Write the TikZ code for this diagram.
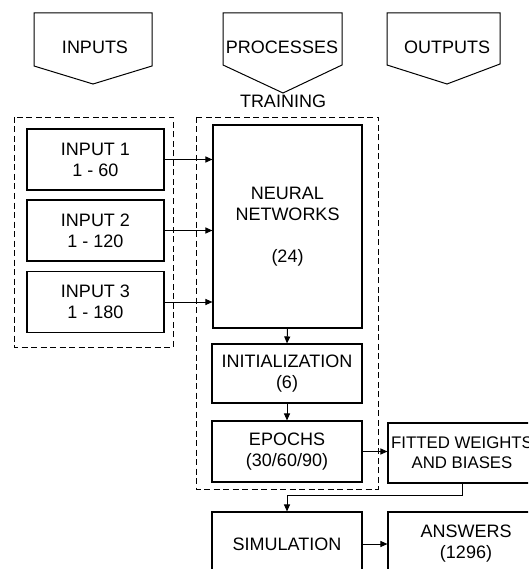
\documentclass[tikz,border=0pt]{standalone}
\usepackage{fontspec}
\setmainfont{Liberation Sans}
\usetikzlibrary{arrows.meta}

\tikzset{
  box/.style={draw, line width=1.1pt, align=center, inner sep=0pt,
    font=\fontsize{18}{21}\selectfont},
  dashbox/.style={draw, line width=0.9pt, dash pattern=on 6pt off 3.5pt},
  arr/.style={line width=1pt, -{Triangle[length=7pt,width=6pt]}},
  head/.style={font=\fontsize{18}{21}\selectfont}
}

\begin{document}
\begin{tikzpicture}[x=1pt, y=-1pt]
  \useasboundingbox (0,0) rectangle (528,569);
  \clip (0,0) rectangle (528,569);

  % Draw the heading arrows
  \draw[line width=1pt] (34,13) -- (152,13) -- (152,66) -- (93,84) -- (34,66) -- cycle;
  \draw[line width=1pt] (223,13) -- (342,13) -- (342,65) -- (283,93) -- (223,65) -- cycle;
  \draw[line width=1pt] (387,13) -- (500,13) -- (500,64) -- (447,84) -- (387,65) -- cycle;
  \node[head] (hin) at (95,47) {INPUTS};
  \node[head] (hproc) at (282,47) {PROCESSES};
  \node[head] (hout) at (447,47) {OUTPUTS};
  \node[head] (train) at (283,101) {TRAINING};

  % Dashed groups
  \draw[dashbox] (14,117) rectangle (173,347);
  \draw[dashbox] (196,117) rectangle (378,489);

  % Input boxes
  \node[box, minimum width=137pt, minimum height=61pt] (in1) at (95.5,159.5) {INPUT 1\\1 - 60};
  \node[box, minimum width=137pt, minimum height=61pt] (in2) at (95.5,230.5) {INPUT 2\\1 - 120};
  \node[box, minimum width=137pt, minimum height=61pt] (in3) at (95.5,302) {INPUT 3\\1 - 180};

  % Training steps
  \node[box, minimum width=149pt, minimum height=203pt] (nn) at (287.5,226.5) {NEURAL\\NETWORKS\\ \\(24)};
  \node[box, minimum width=150pt, minimum height=59pt] (init) at (287,373.5) {INITIALIZATION\\(6)};
  \node[box, minimum width=150pt, minimum height=61pt] (epochs) at (287,451.5) {EPOCHS\\(30/60/90)};

  % Outputs
  \node[box, minimum width=148pt, minimum height=60pt, font=\fontsize{16.8}{20}\selectfont] (fitted) at (462,453) {FITTED WEIGHTS\\AND BIASES};
  \node[box, minimum width=150pt, minimum height=64pt] (sim) at (287,544) {SIMULATION};
  \node[box, minimum width=156pt, minimum height=64pt] (ans) at (466,544) {ANSWERS\\(1296)};

  % Connectors
  \draw[arr] (in1.east) -- (in1.east -| nn.west);
  \draw[arr] (in2.east) -- (in2.east -| nn.west);
  \draw[arr] (in3.east) -- (in3.east -| nn.west);
  \draw[arr] (nn.south) -- (init.north);
  \draw[arr] (init.south) -- (epochs.north);
  \draw[arr] (epochs.east) -- (epochs.east -| fitted.west);
  \draw[arr] (fitted.south) -- ++(0,12) -| (sim.north);
  \draw[arr] (sim.east) -- (sim.east -| ans.west);
\end{tikzpicture}
\end{document}
